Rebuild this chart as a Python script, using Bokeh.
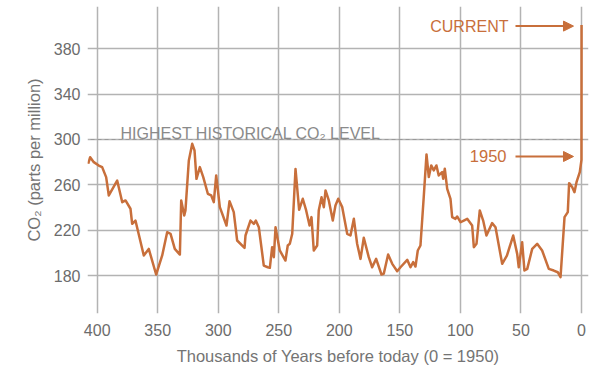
from bokeh.plotting import figure
from bokeh.models import Range1d, FixedTicker, Label, Arrow, NormalHead
from bokeh.core.properties import value
from bokeh.embed import file_html
from bokeh.resources import INLINE

# thousands of years before 1950
kyr = [407.4, 405.8, 402.8, 398.7, 395.9, 392.6, 390.4, 383.5, 379.3, 376.6,
       372.5, 371.1, 368.4, 361.5, 357.4, 351.3, 346.3, 342.2, 339.4, 335.9,
       331.7, 330.6, 328.1, 327.1, 324.3, 321.5, 319.6, 318.0, 315.2, 312.4,
       308.6, 305.8, 303.7, 301.7, 298.7, 293.2, 290.7, 287.2, 284.4, 278.3,
       277.5, 273.4, 270.6, 269.0, 266.5, 262.4, 259.1, 257.4, 255.5, 254.1,
       252.7, 249.2, 244.5, 242.6, 240.9, 238.9, 236.2, 233.2, 230.2, 227.4,
       224.6, 223.0, 221.1, 218.3, 217.0, 214.7, 212.8, 211.4, 208.7, 205.4,
       203.2, 200.9, 197.6, 193.5, 190.8, 188.0, 185.3, 182.5, 179.8, 175.7,
       172.9, 169.6, 165.2, 163.3, 159.7, 156.3, 152.2, 149.5, 143.9, 141.2,
       139.0, 137.1, 135.2, 133.0, 130.2, 128.0, 126.1, 124.1, 122.0, 119.8,
       117.9, 115.1, 114.2, 112.9, 110.9, 108.2, 106.8, 104.1, 102.7, 99.9,
       97.2, 94.4, 90.3, 88.9, 86.7, 84.0, 81.2, 78.5, 73.8, 71.0,
       65.5, 61.6, 56.4, 53.1, 51.8, 49.0, 47.1, 44.8, 40.7, 36.6,
       32.5, 27.0, 22.9, 19.6, 17.3, 14.0, 11.3, 10.2, 7.7, 5.8,
       4.1, 1.4, 0.0, -0.07]
# CO2 in ppm
co2 = [278.6, 284.4, 280.0, 277.0, 275.6, 266.8, 250.6, 263.8, 244.7, 246.2,
       238.9, 225.6, 228.5, 197.7, 203.5, 180.9, 197.7, 218.2, 216.8, 203.5,
       198.5, 246.2, 233.0, 237.4, 281.5, 296.2, 290.3, 265.3, 275.6, 266.8,
       252.1, 250.6, 244.7, 268.3, 240.3, 224.1, 245.6, 235.9, 210.9, 204.4,
       215.3, 228.5, 225.6, 228.5, 222.6, 188.8, 187.3, 186.8, 205.0, 196.2,
       222.6, 202.1, 193.2, 206.5, 208.0, 216.8, 274.0, 238.0, 247.7, 237.4,
       224.1, 231.5, 202.1, 206.5, 237.4, 249.1, 240.3, 255.0, 246.2, 228.5,
       241.8, 247.7, 240.3, 216.8, 215.3, 230.0, 208.0, 194.7, 213.3, 196.2,
       187.3, 194.7, 180.9, 181.5, 198.5, 190.3, 183.8, 187.3, 193.8, 187.3,
       191.8, 187.9, 202.1, 206.5, 250.6, 286.8, 266.8, 277.1, 272.7, 277.1,
       268.3, 271.2, 265.3, 274.2, 256.5, 247.7, 231.5, 230.0, 232.1, 227.0,
       228.5, 230.0, 224.1, 205.0, 208.0, 237.4, 228.5, 215.3, 226.2, 222.6,
       190.3, 197.5, 215.3, 199.1, 187.3, 209.4, 184.4, 185.9, 203.5, 208.0,
       202.1, 185.9, 184.4, 182.9, 178.5, 231.5, 235.9, 261.5, 258.0, 253.5,
       262.3, 271.2, 282.0, 401.0]

x_ticks = [400, 350, 300, 250, 200, 150, 100, 50, 0]
y_ticks = [180, 220, 260, 300, 340, 380]
highest_level = 300
current_value = 400
value_1950 = 285

ORANGE = "#c86f3b"
GRID = "#b3b3b3"
TXT = "#747474"
FONT = "Liberation Sans"

p = figure(width=596, height=372, output_backend="svg", toolbar_location=None,
           x_range=Range1d(408.0, -5.8), y_range=Range1d(146.5, 417.3),
           min_border_left=87, min_border_right=8, min_border_top=6,
           min_border_bottom=59)
p.outline_line_color = None
p.background_fill_color = "white"
p.border_fill_color = "white"

for ax in (p.xaxis[0], p.yaxis[0]):
    ax.axis_line_color = None
    ax.major_tick_line_color = None
    ax.minor_tick_line_color = None
    ax.major_tick_out = 0
    ax.major_tick_in = 0
    ax.major_label_text_font = FONT
    ax.major_label_text_font_size = "16px"
    ax.major_label_text_color = "#6c6c6c"
    ax.axis_label_text_font = FONT
    ax.axis_label_text_font_size = "16.5px"
    ax.axis_label_text_font_style = "normal"
    ax.axis_label_text_color = TXT

p.xaxis.ticker = FixedTicker(ticks=x_ticks)
p.yaxis.ticker = FixedTicker(ticks=y_ticks)
p.xaxis.major_label_standoff = 10
p.yaxis.major_label_standoff = 7
p.xaxis.axis_label = "Thousands of Years before today (0 = 1950)"
p.yaxis.axis_label = "CO₂ (parts per million)"
p.xaxis.axis_label_standoff = 8
p.yaxis.axis_label_standoff = 8

p.xgrid.ticker = FixedTicker(ticks=x_ticks)
p.ygrid.ticker = FixedTicker(ticks=y_ticks)
p.grid.grid_line_color = GRID
p.grid.grid_line_width = 1.5

# highest historical level dashed line
p.line(x=[405.5, -1.5], y=[highest_level, highest_level], line_color="#9a9a9a",
       line_width=1.2, line_dash="4 3")

p.line(x=kyr, y=co2, line_color=ORANGE, line_width=2.5, line_join="round")

p.add_layout(Label(x=380.7, y=305.3, text="HIGHEST HISTORICAL CO₂ LEVEL",
                   text_font=FONT, text_font_size="16px", text_color="#8a8a8a",
                   text_baseline="alphabetic", text_align="left"))
p.add_layout(Label(x=60.3, y=current_value, text="CURRENT", text_font=FONT,
                   text_font_size="16px", text_color=ORANGE,
                   text_baseline="middle", text_align="right"))
p.add_layout(Label(x=61.9, y=value_1950, text="1950", text_font=FONT,
                   text_font_size="16.5px", text_color=ORANGE,
                   text_baseline="middle", text_align="right"))
for yv in (current_value, value_1950):
    p.add_layout(Arrow(end=NormalHead(size=10, fill_color=ORANGE, line_color=ORANGE),
                       x_start=54.5, y_start=yv, x_end=6.6, y_end=yv,
                       line_color=ORANGE, line_width=2))

open("out.html", "w").write(file_html(p, INLINE))
